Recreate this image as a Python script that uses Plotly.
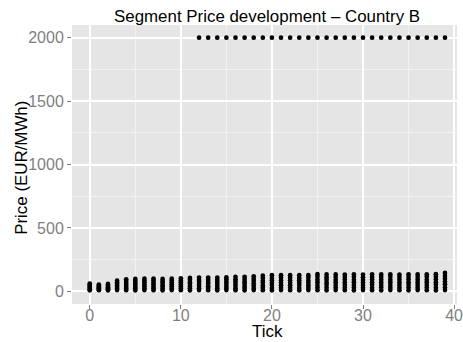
import plotly.graph_objects as go

# Segment prices per tick (EUR/MWh), one list per segment, lowest to highest
ticks = list(range(40))
seg_1 = [8, 9, 8, 10, 9, 8, 10, 9, 8, 10, 9, 8, 10, 9, 8, 10, 9, 8, 10, 9,
         8, 10, 9, 8, 10, 9, 8, 10, 9, 8, 10, 9, 8, 10, 9, 8, 10, 9, 8, 10]
seg_2 = [16, 15, 17, 20, 23, 24, 22, 24, 23, 23, 25, 25, 24, 26, 25, 26, 25, 27, 26, 28,
         27, 29, 28, 27, 28, 30, 29, 30, 28, 30, 29, 28, 30, 29, 28, 30, 29, 30, 29, 30]
seg_3 = [27, 24, 24, 34, 36, 37, 40, 38, 39, 39, 39, 40, 42, 40, 42, 41, 44, 42, 46, 46,
         49, 47, 48, 49, 47, 49, 51, 49, 50, 49, 50, 51, 50, 49, 50, 51, 49, 50, 51, 55]
seg_4 = [34, 30, 33, 45, 52, 54, 53, 55, 52, 55, 56, 58, 57, 59, 58, 60, 60, 62, 63, 67,
         67, 68, 66, 68, 67, 72, 70, 71, 69, 72, 70, 71, 70, 72, 69, 71, 70, 72, 71, 76]
seg_5 = [44, 37, 42, 60, 65, 67, 70, 68, 69, 69, 72, 72, 76, 74, 75, 76, 80, 78, 83, 84,
         88, 86, 87, 88, 86, 92, 92, 90, 92, 91, 90, 93, 91, 92, 91, 93, 92, 91, 93, 100]
seg_6 = [51, 46, 49, 70, 81, 84, 84, 86, 82, 85, 86, 91, 90, 92, 91, 95, 95, 97, 100, 106,
         106, 108, 107, 106, 108, 115, 111, 113, 112, 114, 111, 112, 113, 114, 112, 113, 112, 114, 115, 121]
seg_7 = [61, 53, 58, 84, 95, 98, 100, 100, 98, 100, 103, 106, 108, 108, 108, 111, 114, 114, 119, 124,
         127, 127, 127, 127, 127, 135, 133, 133, 132, 134, 132, 134, 133, 134, 132, 134, 133, 134, 135, 145]

# Price-cap segment, active from tick 12 onwards
cap_ticks = list(range(12, 40))
cap_price = [2000] * len(cap_ticks)

segments = [seg_1, seg_2, seg_3, seg_4, seg_5, seg_6, seg_7]

xs, ys = [], []
for seg in segments:
    xs.extend(ticks)
    ys.extend(seg)
xs.extend(cap_ticks)
ys.extend(cap_price)

fig = go.Figure(go.Scatter(
    x=xs, y=ys, mode="markers",
    marker=dict(color="black", size=4.7, line=dict(width=0)),
    showlegend=False, hoverinfo="x+y",
))

W, H = 463, 342
L, R, T, B = 72, 0, 25, 38
pw, ph = W - L - R, H - T - B

def px_x(px):
    return (px - L) / pw

def px_y(py):
    return (H - B - py) / ph

grey_txt = "#7F7F7F"
font_family = "Liberation Sans, Arial, sans-serif"

fig.update_layout(
    width=W, height=H,
    margin=dict(l=L, r=R, t=T, b=B, pad=0),
    paper_bgcolor="white",
    plot_bgcolor="#E5E5E5",
    font=dict(family=font_family, color="black"),
    xaxis=dict(
        range=[-1.95, -1.95 + pw / 9.25],
        tick0=0, dtick=10,
        showgrid=True, gridcolor="white", gridwidth=1.5,
        minor=dict(dtick=5, showgrid=True, gridcolor="#F2F2F2", gridwidth=0.8),
        zeroline=False, showline=False,
        ticks="outside", ticklen=4, tickwidth=1, tickcolor=grey_txt,
        ticklabeloverflow="allow", ticklabelstandoff=-7,
        tickfont=dict(size=16, color=grey_txt, family=font_family),
    ),
    yaxis=dict(
        range=[-100, 2100],
        tick0=0, dtick=500,
        showgrid=True, gridcolor="white", gridwidth=1.5,
        minor=dict(dtick=250, showgrid=True, gridcolor="#F2F2F2", gridwidth=0.8),
        zeroline=False, showline=False,
        ticks="outside", ticklen=4, tickwidth=1, tickcolor=grey_txt,
        tickfont=dict(size=16, color=grey_txt, family=font_family),
    ),
    annotations=[
        dict(text="Segment Price development \u2013 Country B",
             xref="paper", yref="paper", x=px_x(270), y=px_y(16.9),
             xanchor="center", yanchor="middle", showarrow=False,
             font=dict(size=16.9, color="black", family=font_family)),
        dict(text="Tick",
             xref="paper", yref="paper", x=px_x(270.5), y=px_y(331.5),
             xanchor="center", yanchor="middle", showarrow=False,
             font=dict(size=16.9, color="black", family=font_family)),
        dict(text="Price (EUR/MWh)",
             xref="paper", yref="paper", x=px_x(20), y=px_y(168),
             xanchor="center", yanchor="middle", showarrow=False, textangle=-90,
             font=dict(size=16.9, color="black", family=font_family)),
    ],
)

fig.write_html("out.html")
